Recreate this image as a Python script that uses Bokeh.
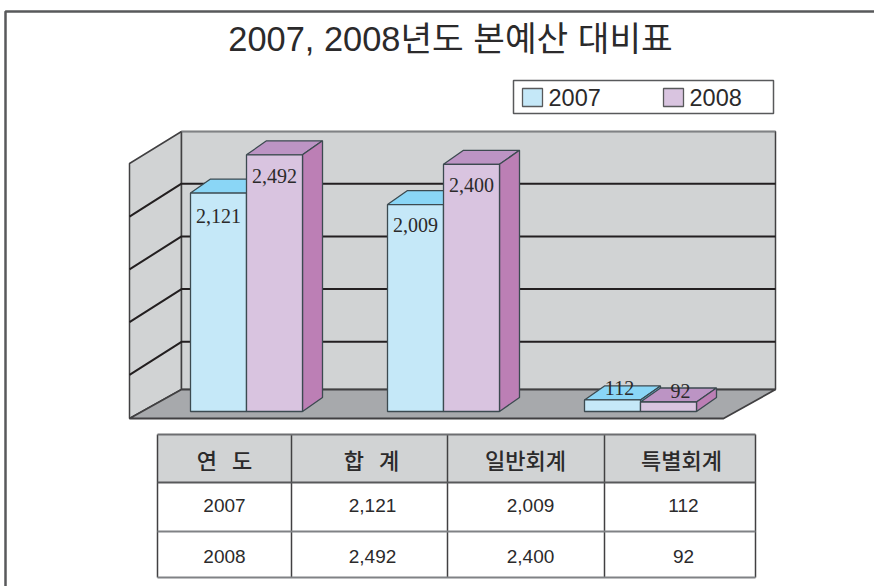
from bokeh.plotting import figure
from bokeh.core.properties import value
from bokeh.embed import file_html
from bokeh.resources import INLINE

title = "2007, 2008년도 본예산 대비표"
years = ["2007", "2008"]
categories = ["합계", "일반회계", "특별회계"]
header_labels = ["연\u00a0\u00a0\u00a0도", "합\u00a0\u00a0\u00a0계", "일반회계", "특별회계"]
values_2007 = [2121, 2009, 112]
values_2008 = [2492, 2400, 92]
grid_values = [500, 1000, 1500, 2000]

W, H = 874, 586
BASE = 411.0          # page y of value 0 at the front of the bars
K = 0.103             # pixels per unit
WALL_K = 0.1054       # gridline spacing on the back wall
DX, DY = 20, 14       # bar depth in px
WDX, WDY = 52, 33     # wall depth in px


def vy(py):
    return (BASE - py) / K


p = figure(width=W, height=H, x_range=(0, W), y_range=(vy(H), vy(0)),
           x_axis_type=None, y_axis_type=None, toolbar_location=None,
           output_backend="svg", min_border=0, outline_line_color=None,
           margin=(0, 0, 0, 0))
p.grid.visible = False
p.background_fill_color = "white"
p.border_fill_color = "white"

EDGE = "#3c4a50"
WALL = "#d1d3d4"
FLOOR = "#a7a9ac"
INK = "#2b2a2b"
SANS = value("Liberation Sans, 'Noto Sans CJK KR', sans-serif")
HEAD = value("'Noto Sans CJK KR Medium', 'Noto Sans CJK KR', sans-serif")

# page frame
p.line([5, 5, W], [vy(H), vy(11), vy(11)], line_color="#58595b", line_width=2.5)

# title
p.text([450], [vy(38)], text=[title], text_font=SANS, text_font_size="34.4px",
       text_align="center", text_baseline="middle", text_color=INK)

# legend
p.quad(left=[513], right=[773], top=[vy(80)], bottom=[vy(113)], fill_color="white",
       line_color="#58595b", line_width=1.5)
for sx, col, yr in [(522, "#c5e8f8", years[0]), (663, "#d9c4e0", years[1])]:
    p.quad(left=[sx], right=[sx + 20], top=[vy(88)], bottom=[vy(106)], fill_color=col,
           line_color="#58595b", line_width=1.3)
    p.text([sx + 26], [vy(97)], text=[yr], text_font=SANS, text_font_size="23.5px",
           text_align="left", text_baseline="middle", text_color=INK)

# walls and floor
p.patch([129, 181, 181, 129], [vy(163), vy(131), vy(389), vy(418)], fill_color=WALL,
        line_color="#414042", line_width=1.5)
p.patch([181, 775, 775, 181], [vy(131), vy(131), vy(389), vy(389)], fill_color=WALL,
        line_color="#414042", line_width=1.5)
p.line([181, 775], [vy(131), vy(131)], line_color="#808285", line_width=1.5)
p.patch([129, 181, 775, 723], [vy(418), vy(389), vy(389), vy(418)], fill_color=FLOOR,
        line_color="#414042", line_width=1.8)

# gridlines, read from the back wall and the side wall
for g in grid_values:
    yb = 394 - g * WALL_K
    p.line([129, 181, 775], [vy(yb + WDY), vy(yb), vy(yb)], line_color="#231f20", line_width=2)


def bar(x0, x1, v, front, top, side):
    y0, y1 = 0, v
    d = DY / K
    p.patch([x0, x1, x1 + DX, x0 + DX], [y1, y1, y1 + d, y1 + d], fill_color=top,
            line_color=EDGE, line_width=1.3)
    p.patch([x1, x1 + DX, x1 + DX, x1], [y0, y0 + d, y1 + d, y1], fill_color=side,
            line_color=EDGE, line_width=1.3)
    p.quad(left=[x0], right=[x1], bottom=[y0], top=[y1], fill_color=front,
           line_color=EDGE, line_width=1.3)


SLOT0, SLOT_STEP, BW = 190, 197, 56
label_off = {0: [(28, 23), (28, 21)], 1: [(28, 20), (28, 21)], 2: [(35, -12), (40, -11)]}
labels = []
for i, _ in enumerate(categories):
    x = SLOT0 + i * SLOT_STEP
    bar(x, x + BW, values_2007[i], "#c5e8f8", "#8ad6f6", "#6fc4e6")
    bar(x + BW, x + 2 * BW, values_2008[i], "#d9c4e0", "#bc94c4", "#bc7fb5")
    for j, v in enumerate((values_2007[i], values_2008[i])):
        ox, oy = label_off[i][j]
        labels.append((x + j * BW + ox, v - oy / K, f"{v:,}"))

p.text([l[0] for l in labels], [l[1] for l in labels], text=[l[2] for l in labels],
       text_font=value("Liberation Serif"), text_font_size="20px", text_align="center",
       text_baseline="middle", text_color=INK)

# table
cols = [157, 291, 447, 604, 755]
rows = [434, 482, 531, 577]
p.quad(left=[cols[0]], right=[cols[-1]], top=[vy(rows[0])], bottom=[vy(rows[1])],
       fill_color=WALL, line_color=None)
for c in cols:
    p.line([c, c], [vy(rows[0]), vy(rows[-1])], line_color="#414042", line_width=1.5)
for r, col in zip(rows, ["#6d6e71", "#58595b", "#808285", "#808285"]):
    p.line([cols[0], cols[-1]], [vy(r), vy(r)], line_color=col, line_width=2)

head_x = [224, 371, 525, 681]
p.text(head_x, [vy(458)] * 4, text=header_labels, text_font=HEAD,
       text_font_size="22px", text_align="center", text_baseline="middle", text_color=INK)
cell_x = [224, 372, 530, 683]
for yr, vals, y in [(years[0], values_2007, 505), (years[1], values_2008, 556)]:
    p.text(cell_x, [vy(y)] * 4, text=[yr] + [f"{v:,}" for v in vals], text_font=SANS,
           text_font_size="19px", text_align="center", text_baseline="middle", text_color=INK)

open("out.html", "w").write(file_html(p, INLINE))
